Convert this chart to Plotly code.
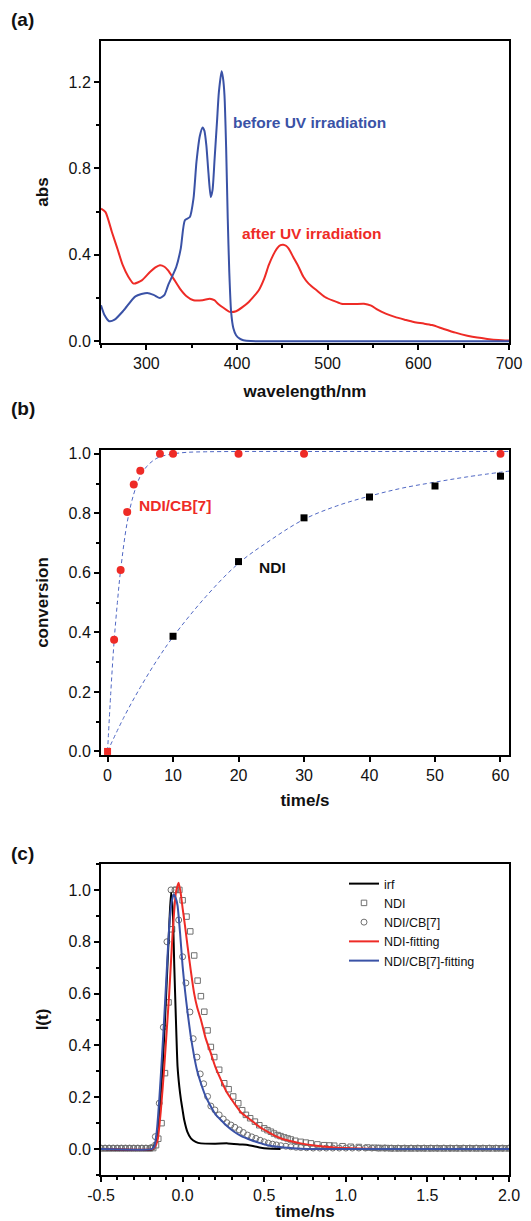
import plotly.graph_objects as go

# ---------------- (a) absorption spectra ----------------
WL_BEFORE = [250, 254, 259, 265, 275, 288, 301, 308, 315, 320, 324, 333, 338, 342.5, 348, 352, 355.3, 359, 362, 364,
             366.2, 368.5, 371, 373, 375.3, 378, 380, 383, 384.5, 386.2, 388, 389.8, 391.5, 393.5, 396, 399, 403, 407, 415, 450, 550, 700]
ABS_BEFORE = [0.167, 0.12, 0.093, 0.10, 0.143, 0.208, 0.224, 0.215, 0.20, 0.215, 0.259, 0.344, 0.43, 0.56, 0.575, 0.66, 0.83, 0.95, 0.99, 0.975,
              0.907, 0.78, 0.668, 0.70, 0.845, 1.02, 1.153, 1.25, 1.22, 1.138, 0.90, 0.567, 0.32, 0.136, 0.06, 0.028, 0.012, 0.005, 0.001, 0.0, 0.0, 0.0]

WL_AFTER = [250, 255, 262, 268, 274, 280, 286, 295, 304, 310, 315, 320, 324, 330, 337, 344, 352, 362, 370, 375, 379, 385, 392, 399, 406,
            413, 419, 424, 430, 435, 440, 444, 448, 451, 454, 457, 462, 468, 473, 479, 488, 497, 506, 515, 528, 540, 548, 555, 564, 574,
            585, 595, 606, 615, 628, 641, 654, 665, 676, 688, 700]
ABS_AFTER = [0.614, 0.598, 0.506, 0.43, 0.352, 0.30, 0.267, 0.282, 0.321, 0.342, 0.352, 0.345, 0.328, 0.29, 0.244, 0.21, 0.19, 0.19, 0.197, 0.19,
             0.174, 0.155, 0.136, 0.139, 0.158, 0.182, 0.21, 0.236, 0.29, 0.352, 0.40, 0.429, 0.445, 0.447, 0.442, 0.429, 0.39, 0.344, 0.30, 0.267,
             0.235, 0.205, 0.188, 0.174, 0.172, 0.174, 0.165, 0.146, 0.128, 0.113, 0.10, 0.089, 0.082, 0.075, 0.057, 0.04, 0.026, 0.017, 0.011, 0.006, 0.003]

# ---------------- (b) conversion vs time ----------------
T_CB7 = [0, 1, 2, 3, 4, 5, 8, 10, 20, 30, 60]
CONV_CB7 = [0.0, 0.375, 0.61, 0.805, 0.897, 0.943, 1.0, 1.0, 1.0, 1.0, 1.0]
T_NDI = [0, 10, 20, 30, 40, 50, 60]
CONV_NDI = [0.0, 0.387, 0.638, 0.785, 0.855, 0.892, 0.925]

FIT_T_CB7 = [0, 0.5, 1, 1.5, 2, 3, 4, 5, 6, 7, 8, 10, 12, 15, 20, 30, 45, 61.3]
FIT_CB7 = [0.0, 0.2, 0.37, 0.50, 0.61, 0.77, 0.865, 0.925, 0.958, 0.978, 0.99, 1.0, 1.005, 1.007, 1.008, 1.008, 1.008, 1.008]
FIT_T_NDI = [0, 2.5, 5, 7.5, 10, 15, 20, 25, 30, 35, 40, 45, 50, 55, 61.3]
FIT_NDI = [0.0, 0.115, 0.215, 0.305, 0.385, 0.52, 0.632, 0.712, 0.78, 0.825, 0.858, 0.885, 0.905, 0.923, 0.942]

# ---------------- (c) fluorescence decay ----------------
IRF_T = [-0.5, -0.184, -0.165, -0.153, -0.138, -0.122, -0.102, -0.082, -0.071, -0.061, -0.051, -0.041, -0.031, -0.02, -0.01, 0.0, 0.01,
         0.03, 0.051, 0.08, 0.112, 0.2, 0.276, 0.357, 0.4, 0.439, 0.48, 0.52, 0.6]
IRF_I = [0.0, 0.0, 0.025, 0.06, 0.17, 0.32, 0.577, 0.86, 0.99, 0.93, 0.706, 0.50, 0.319, 0.24, 0.19, 0.15, 0.112,
         0.065, 0.041, 0.028, 0.022, 0.021, 0.022, 0.018, 0.016, 0.011, 0.005, 0.002, 0.0]

NDIFIT_T = [-0.5, -0.184, -0.17, -0.153, -0.133, -0.112, -0.097, -0.082, -0.061, -0.041, -0.024, -0.01, 0.0, 0.015, 0.031, 0.05, 0.071,
            0.09, 0.112, 0.14, 0.173, 0.2, 0.235, 0.27, 0.316, 0.36, 0.418, 0.47, 0.52, 0.57, 0.622, 0.68, 0.724, 0.82, 0.929, 1.03, 1.133, 1.3, 2.0]
NDIFIT_I = [0.0, 0.0, 0.008, 0.035, 0.15, 0.32, 0.46, 0.60, 0.835, 0.99, 1.028, 0.98, 0.93, 0.86, 0.78, 0.69, 0.60,
            0.545, 0.50, 0.43, 0.37, 0.318, 0.267, 0.22, 0.177, 0.14, 0.112, 0.086, 0.067, 0.05, 0.037, 0.028, 0.022, 0.013, 0.006, 0.003, 0.001, 0.0, 0.0]

CBFIT_T = [-0.5, -0.19, -0.173, -0.158, -0.143, -0.128, -0.112, -0.097, -0.082, -0.068, -0.055, -0.043, -0.031, -0.015, 0.0, 0.015, 0.031,
           0.05, 0.071, 0.09, 0.112, 0.14, 0.173, 0.2, 0.235, 0.27, 0.316, 0.36, 0.418, 0.47, 0.52, 0.57, 0.622, 0.724, 0.85, 2.0]
CBFIT_I = [0.0, 0.0, 0.01, 0.07, 0.19, 0.34, 0.512, 0.69, 0.86, 0.95, 0.983, 0.97, 0.94, 0.83, 0.706, 0.61, 0.525,
           0.435, 0.357, 0.30, 0.254, 0.205, 0.164, 0.135, 0.112, 0.09, 0.067, 0.05, 0.035, 0.024, 0.015, 0.01, 0.006, 0.001, 0.0, 0.0]

NDI_T = [-0.500, -0.475, -0.450, -0.425, -0.400, -0.375, -0.350, -0.325, -0.300, -0.275, -0.250, -0.225, -0.200, -0.180,
         -0.163, -0.149, -0.129, -0.108, -0.086, -0.065, -0.041, -0.020, 0.000, 0.024, 0.047, 0.071, 0.092, 0.112, 0.133, 0.153,
         0.173, 0.194, 0.224, 0.255, 0.282, 0.310, 0.341, 0.365, 0.388, 0.414, 0.443, 0.470, 0.500, 0.520, 0.541, 0.560, 0.582,
         0.600, 0.622, 0.643, 0.663, 0.690, 0.724, 0.755, 0.786, 0.826, 0.867, 0.900, 0.929, 0.980, 1.030, 1.080, 1.133, 1.175,
         1.200, 1.225, 1.250, 1.275, 1.300, 1.325, 1.350, 1.375, 1.400, 1.425, 1.450, 1.475, 1.500, 1.525, 1.550, 1.575, 1.600,
         1.625, 1.650, 1.675, 1.700, 1.725, 1.750, 1.775, 1.800, 1.825, 1.850, 1.875, 1.900, 1.925, 1.950, 1.975, 2.000]
NDI_I = [0.003, 0.003, 0.003, 0.003, 0.003, 0.003, 0.003, 0.003, 0.003, 0.003, 0.003, 0.003, 0.003, 0.004,
         0.015, 0.04, 0.10, 0.293, 0.566, 0.848, 1.0, 1.0, 0.96, 0.897, 0.84, 0.747, 0.65, 0.59, 0.53, 0.458,
         0.394, 0.355, 0.306, 0.254, 0.231, 0.203, 0.177, 0.15, 0.132, 0.119, 0.106, 0.092, 0.08, 0.073, 0.067, 0.06, 0.054,
         0.05, 0.045, 0.041, 0.037, 0.032, 0.028, 0.025, 0.022, 0.018, 0.015, 0.014, 0.013, 0.011, 0.009, 0.008, 0.006, 0.005,
         0.004, 0.004, 0.004, 0.003, 0.003, 0.003, 0.003, 0.003, 0.003, 0.003, 0.003, 0.003, 0.003, 0.003, 0.003, 0.003, 0.003,
         0.003, 0.003, 0.003, 0.003, 0.003, 0.003, 0.003, 0.003, 0.003, 0.003, 0.003, 0.003, 0.003, 0.003, 0.003, 0.003]

CB_T = [-0.500, -0.475, -0.450, -0.425, -0.400, -0.375, -0.350, -0.325, -0.300, -0.275, -0.250, -0.225, -0.200, -0.183,
        -0.167, -0.143, -0.118, -0.096, -0.071, -0.047, -0.024, 0.000, 0.020, 0.045, 0.065, 0.088, 0.108, 0.129, 0.153, 0.173,
        0.198, 0.224, 0.249, 0.271, 0.296, 0.320, 0.347, 0.372, 0.398, 0.424, 0.449, 0.475, 0.500, 0.525, 0.551, 0.575, 0.602,
        0.633, 0.663, 0.695, 0.724, 0.760, 0.800, 0.840, 0.880, 0.920, 0.960, 1.000, 1.040, 1.080, 1.120, 1.160, 1.200, 1.240,
        1.280, 1.320, 1.360, 1.400, 1.440, 1.480, 1.520, 1.560, 1.600, 1.640, 1.680, 1.720, 1.760, 1.800, 1.840, 1.880, 1.920,
        1.960, 2.000]
CB_I = [0.004, 0.004, 0.004, 0.004, 0.004, 0.004, 0.004, 0.004, 0.004, 0.004, 0.004, 0.004, 0.004, 0.008,
        0.048, 0.177, 0.47, 0.80, 1.0, 1.0, 0.884, 0.742, 0.641, 0.529, 0.426, 0.355, 0.29, 0.252, 0.203, 0.166,
        0.151, 0.132, 0.116, 0.102, 0.093, 0.084, 0.074, 0.064, 0.054, 0.047, 0.041, 0.034, 0.028, 0.023, 0.019, 0.016, 0.013,
        0.011, 0.009, 0.007, 0.006, 0.005, 0.004, 0.004, 0.004, 0.004, 0.004, 0.004, 0.004, 0.004, 0.004, 0.004, 0.004, 0.004,
        0.004, 0.004, 0.004, 0.004, 0.004, 0.004, 0.004, 0.004, 0.004, 0.004, 0.004, 0.004, 0.004, 0.004, 0.004, 0.004, 0.004,
        0.004, 0.004]

C_TICKVALS = [-0.5, 0.0, 0.5, 1.0, 1.5, 2.0]
C_TICKTEXT = ["-0.5", "0.0", "0.5", "1.0", "1.5", "2.0"]

BLUE = "#3a52a6"
RED = "#ee2b26"
DASH_BLUE = "#5068c4"
GREY = "#707070"
FONT = "Liberation Sans, Arial, sans-serif"

# page body adds an 8px margin; draw the figure in the remaining area
OFF = 8
W, H = 531 - OFF, 1221 - OFF


def px_x(x):
    return (x - OFF) / W


def px_y(y):
    return 1 - (y - OFF) / H


fig = go.Figure()

# (a)
fig.add_trace(go.Scatter(x=WL_AFTER, y=ABS_AFTER, mode="lines", line=dict(color=RED, width=2, shape="spline", smoothing=0.6),
                         xaxis="x", yaxis="y", showlegend=False))
fig.add_trace(go.Scatter(x=WL_BEFORE, y=ABS_BEFORE, mode="lines", line=dict(color=BLUE, width=2, shape="spline", smoothing=0.6),
                         xaxis="x", yaxis="y", showlegend=False))

# (b)
fig.add_trace(go.Scatter(x=FIT_T_NDI, y=FIT_NDI, mode="lines", line=dict(color=DASH_BLUE, width=1, dash="4px,3px", shape="spline"),
                         xaxis="x2", yaxis="y2", showlegend=False))
fig.add_trace(go.Scatter(x=FIT_T_CB7, y=FIT_CB7, mode="lines", line=dict(color=DASH_BLUE, width=1, dash="4px,3px", shape="spline"),
                         xaxis="x2", yaxis="y2", showlegend=False))
fig.add_trace(go.Scatter(x=T_NDI, y=CONV_NDI, mode="markers",
                         marker=dict(symbol="square", size=7, color=[RED] + ["black"] * (len(T_NDI) - 1)),
                         xaxis="x2", yaxis="y2", showlegend=False))
fig.add_trace(go.Scatter(x=T_CB7[1:], y=CONV_CB7[1:], mode="markers", marker=dict(symbol="circle", size=8, color=RED),
                         xaxis="x2", yaxis="y2", showlegend=False))

# (c)
fig.add_trace(go.Scatter(x=NDI_T, y=NDI_I, mode="markers", name="NDI",
                         marker=dict(symbol="square-open", size=5.5, color=GREY, line=dict(width=1)),
                         xaxis="x3", yaxis="y3", legendrank=2))
fig.add_trace(go.Scatter(x=CB_T, y=CB_I, mode="markers", name="NDI/CB[7]",
                         marker=dict(symbol="circle-open", size=6, color=GREY, line=dict(width=1)),
                         xaxis="x3", yaxis="y3", legendrank=3))
fig.add_trace(go.Scatter(x=IRF_T, y=IRF_I, mode="lines", name="irf", line=dict(color="black", width=2, shape="spline", smoothing=0.5),
                         xaxis="x3", yaxis="y3", legendrank=1))
fig.add_trace(go.Scatter(x=NDIFIT_T, y=NDIFIT_I, mode="lines", name="NDI-fitting", line=dict(color=RED, width=2, shape="spline", smoothing=0.5),
                         xaxis="x3", yaxis="y3", legendrank=4))
fig.add_trace(go.Scatter(x=CBFIT_T, y=CBFIT_I, mode="lines", name="NDI/CB[7]-fitting", line=dict(color=BLUE, width=2, shape="spline", smoothing=0.5),
                         xaxis="x3", yaxis="y3", legendrank=5))

XD = [px_x(101), px_x(509)]
tickfont = dict(family=FONT, size=16, color="#111111")
titlefont = dict(family=FONT, size=17, color="#111111", weight="bold")


def ax(rng, dtick, tick0, minor_dtick, title, standoff, anchor, domain, fmt):
    d = dict(range=rng, dtick=dtick, tick0=tick0, showgrid=False, zeroline=False, showline=True, linecolor="black",
             linewidth=2, mirror=True, ticks="outside", ticklen=5, tickwidth=2, tickcolor="black",
             tickfont=tickfont, tickformat=fmt, automargin=False, anchor=anchor, domain=domain,
             title=dict(text=title, font=titlefont, standoff=standoff))
    if minor_dtick:
        d["minor"] = dict(dtick=minor_dtick, ticks="outside", ticklen=3, tickwidth=2, tickcolor="black", showgrid=False)
    return d


xaxis3 = ax([-0.5, 2.0], 0.5, -0.5, 0.1, "time/ns", 6, "y3", XD, ".1f")
xaxis3.update(tickmode="array", tickvals=C_TICKVALS, ticktext=C_TICKTEXT)

fig.update_layout(
    width=W, height=H, margin=dict(l=0, r=0, t=0, b=0, autoexpand=False),
    paper_bgcolor="white", plot_bgcolor="white",
    font=dict(family=FONT, color="#111111"),
    xaxis=ax([250, 700], 100, 300, 50, "wavelength/nm", 14, "y", XD, "d"),
    yaxis=ax([-0.008, 1.39], 0.4, 0, 0.2, "abs", 16, "x", [px_y(343), px_y(41)], ".1f"),
    xaxis2=ax([-1, 61.3], 10, 0, None, "time/s", 11, "y2", XD, "d"),
    yaxis2=ax([-0.012, 1.013], 0.2, 0, 0.1, "conversion", 16, "x2", [px_y(755), px_y(450)], ".1f"),
    xaxis3=xaxis3,
    yaxis3=ax([-0.1, 1.1], 0.2, 0, 0.1, "I(t)", 16, "x3", [px_y(1175), px_y(864)], ".1f"),
    legend=dict(x=px_x(344), y=px_y(869), xanchor="left", yanchor="top", bgcolor="rgba(0,0,0,0)",
                font=dict(family=FONT, size=12.5, color="#111111"), tracegroupgap=0, itemwidth=30),
)

for text, y in [("(a)", 20), ("(b)", 408), ("(c)", 853)]:
    fig.add_annotation(text="<b>" + text + "</b>", x=px_x(9), y=px_y(y), xref="paper", yref="paper",
                       xanchor="left", yanchor="middle", showarrow=False, font=dict(family=FONT, size=19, color="#111111"))

fig.add_annotation(text="<b>before UV irradiation</b>", x=393.5, y=1.011, xref="x", yref="y", xanchor="left", yanchor="middle",
                   showarrow=False, font=dict(family=FONT, size=15.5, color=BLUE))
fig.add_annotation(text="<b>after UV irradiation</b>", x=403.3, y=0.497, xref="x", yref="y", xanchor="left", yanchor="middle",
                   showarrow=False, font=dict(family=FONT, size=15.5, color=RED))
fig.add_annotation(text="<b>NDI/CB[7]</b>", x=4.5, y=0.826, xref="x2", yref="y2", xanchor="left", yanchor="middle",
                   showarrow=False, font=dict(family=FONT, size=15.5, color=RED))
fig.add_annotation(text="<b>NDI</b>", x=22.8, y=0.618, xref="x2", yref="y2", xanchor="left", yanchor="middle",
                   showarrow=False, font=dict(family=FONT, size=15.5, color="#111111"))

fig.write_html("out.html")
